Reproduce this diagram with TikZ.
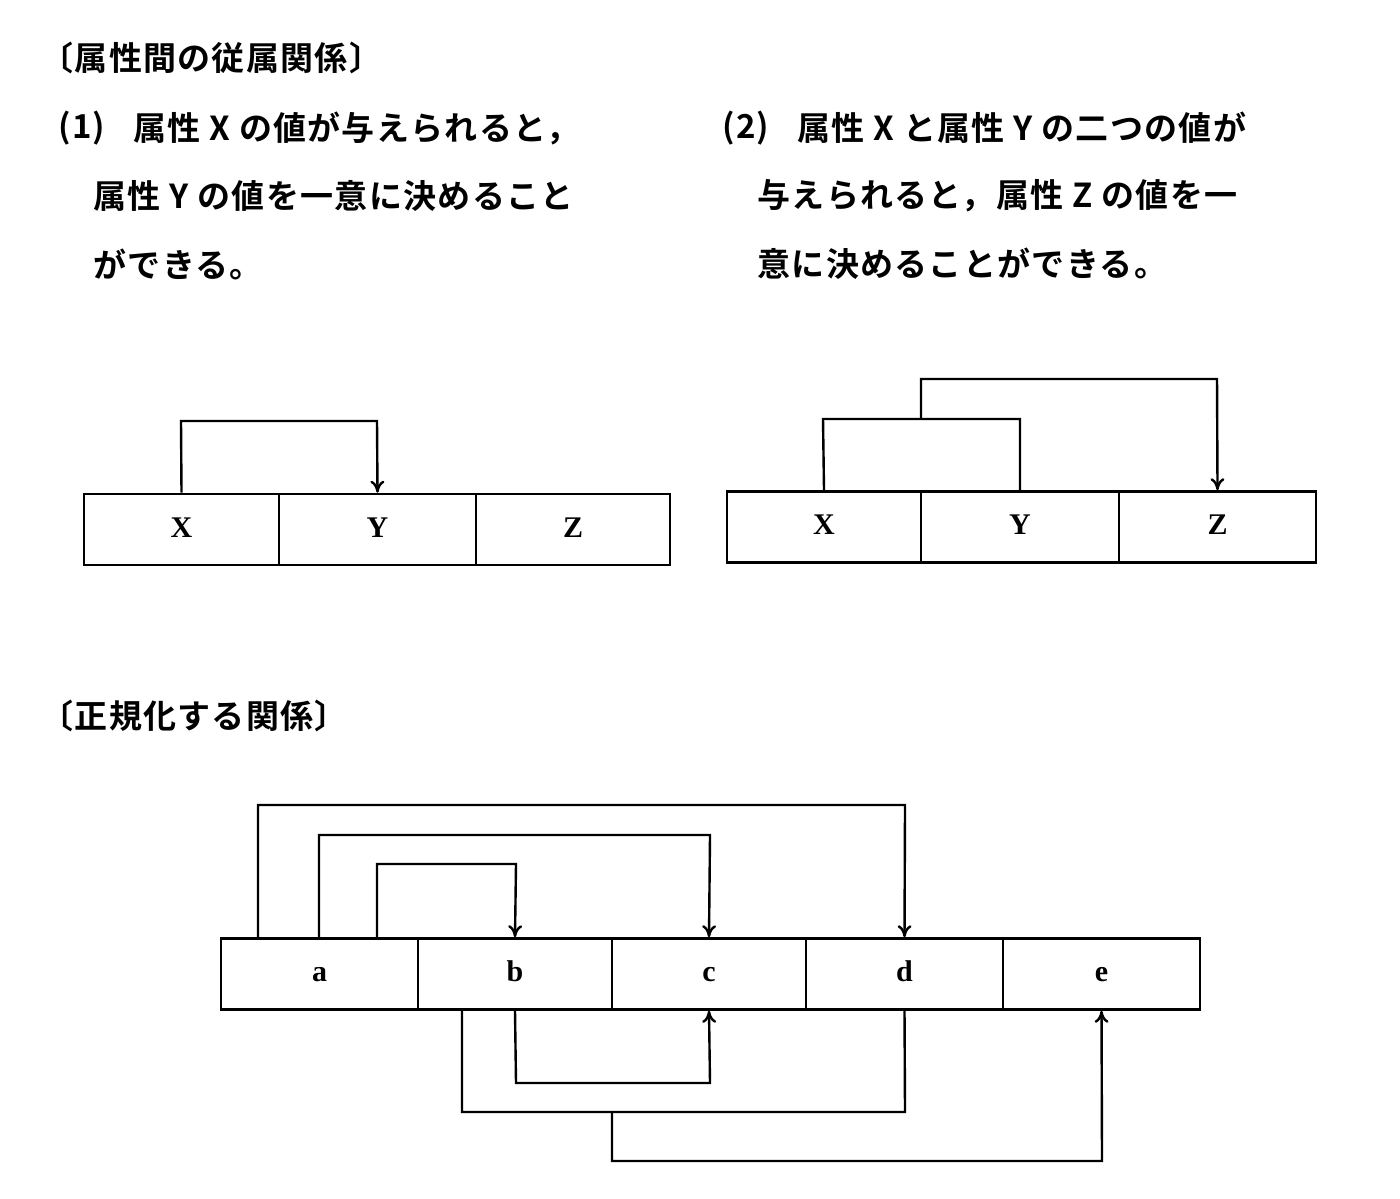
\documentclass[tikz,border=0pt]{standalone}
\usepackage{fontspec}
\newfontfamily\cjk{Noto Sans CJK JP}[BoldFont={Noto Sans CJK JP Bold},LetterSpace=4]
\setmainfont{Liberation Serif}
\usetikzlibrary{arrows.meta}
\begin{document}
\begin{tikzpicture}[x=0.5pt,y=-0.5pt,
  cell/.style={draw,line width=1.3pt,minimum height=35.5pt,inner sep=0pt,text height=7.5pt,text depth=0pt,font=\bfseries\fontsize{15}{15}\selectfont},
  txt/.style={anchor=west,inner sep=0pt,font=\cjk\bfseries\fontsize{16.5}{18}\selectfont},
  ln/.style={line width=1.2pt},
  arr/.style={ln,-{To[length=6pt,width=7pt]}}]
\useasboundingbox (0,0) rectangle (1400,1198);
\node[txt] (h1) at (40,58) {〔属性間の従属関係〕};
\node[txt] (p1) at (58,128) {(1)};
\node[txt] (l1a) at (133,128) {属性 X の値が与えられると，};
\node[txt] (l1b) at (93,196) {属性 Y の値を一意に決めること};
\node[txt] (l1c) at (93,264) {ができる。};
\node[txt] (p2) at (722,128) {(2)};
\node[txt] (l2a) at (797,128) {属性 X と属性 Y の二つの値が};
\node[txt] (l2b) at (757,196) {与えられると，属性 Z の値を一};
\node[txt] (l2c) at (757,264) {意に決めることができる。};
\node[txt] (h2) at (40,716) {〔正規化する関係〕};
% left
\foreach \n/\a/\b/\t in {X1/84/279/X,Y1/279/476/Y,Z1/476/670/Z}
  \node[cell,minimum width=(\b-\a)*0.5pt] (\n) at ({(\a+\b)/2},529.5) {\t};
\coordinate (q1) at (181,421); \coordinate (q2) at (377,421);
\draw[arr] (X1.north) -- (q1) -- (q2) -- (Y1.north);
% right
\foreach \n/\a/\b/\t in {X2/727/921/X,Y2/921/1119/Y,Z2/1119/1316/Z}
  \node[cell,minimum width=(\b-\a)*0.5pt] (\n) at ({(\a+\b)/2},527) {\t};
\coordinate (r1) at (823,419); \coordinate (r2) at (1020,419);
\coordinate (r3) at (921,419); \coordinate (r4) at (921,379); \coordinate (r5) at (1217,379);
\draw[ln] (X2.north) -- (r1) -- (r2) -- (Y2.north);
\draw[arr] (r3) -- (r4) -- (r5) -- (Z2.north);
% bottom
\foreach \n/\a/\b in {a/221/418,b/418/612,c/612/806,d/806/1003,e/1003/1200}
  \node[cell,minimum width=(\b-\a)*0.5pt] (\n) at ({(\a+\b)/2},974) {\n};
\coordinate (s1) at (258,938); \coordinate (s2) at (258,805); \coordinate (s3) at (905,805);
\draw[arr] (s1) -- (s2) -- (s3) -- (d.north);
\coordinate (t1) at (319,938); \coordinate (t2) at (319,835); \coordinate (t3) at (710,835);
\draw[arr] (t1) -- (t2) -- (t3) -- (c.north);
\coordinate (u1) at (377,938); \coordinate (u2) at (377,864); \coordinate (u3) at (516,864);
\draw[arr] (u1) -- (u2) -- (u3) -- (b.north);
\coordinate (v1) at (516,1083); \coordinate (v2) at (710,1083);
\draw[arr] (b.south) -- (v1) -- (v2) -- (c.south);
\coordinate (w0) at (462,1010); \coordinate (w1) at (462,1112); \coordinate (w2) at (905,1112);
\draw[ln] (w0) -- (w1) -- (w2) -- (d.south);
\coordinate (z0) at (612,1112); \coordinate (z1) at (612,1161); \coordinate (z2) at (1102,1161);
\draw[arr] (z0) -- (z1) -- (z2) -- (e.south);
\end{tikzpicture}
\end{document}
